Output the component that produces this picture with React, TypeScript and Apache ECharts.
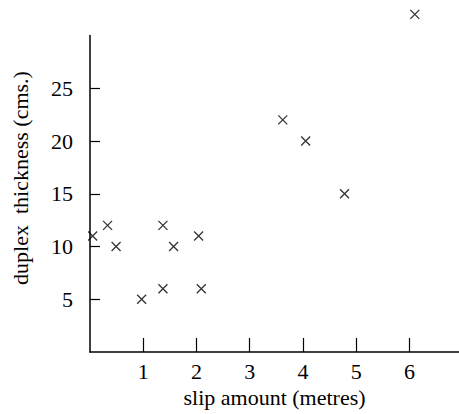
import React, { useEffect, useRef } from "react";
import * as echarts from "echarts";

const slipAmount = [0.05, 0.33, 0.49, 0.97, 1.37, 1.37, 1.57, 2.04, 2.09, 3.62, 4.05, 4.78, 6.1];
const duplexThickness = [11, 12, 10, 5, 12, 6, 10, 11, 6, 22, 20, 15, 32];
const xTickValues = [1, 2, 3, 4, 5, 6];
const yTickValues = [5, 10, 15, 20, 25];

const FONT = "'Liberation Serif', 'Times New Roman', serif";

export default function App() {
  const ref = useRef<HTMLDivElement>(null);
  useEffect(() => {
    if (!ref.current) return;
    const chart = echarts.init(ref.current, null, { renderer: "svg" });
    const data = slipAmount.map((x, i) => [x, duplexThickness[i]]);
    chart.setOption({
      animation: false,
      backgroundColor: "#fff",
      grid: { left: 90, right: 0, top: 35.5, bottom: 62 },
      xAxis: {
        type: "value",
        min: 0,
        max: 6.93,
        interval: 1,
        splitLine: { show: false },
        axisLine: { lineStyle: { color: "#000", width: 1.5 } },
        axisTick: { inside: true, length: 14, customValues: xTickValues, lineStyle: { color: "#000", width: 1.2 } },
        axisLabel: { customValues: xTickValues, color: "#000", fontFamily: FONT, fontSize: 22, margin: 8 },
        name: "slip amount (metres)",
        nameLocation: "middle",
        nameGap: 34,
        nameTextStyle: { color: "#000", fontFamily: FONT, fontSize: 22 },
      },
      yAxis: {
        type: "value",
        min: 0,
        max: 30,
        interval: 5,
        splitLine: { show: false },
        axisLine: { lineStyle: { color: "#000", width: 1.5 } },
        axisTick: { inside: true, length: 10, customValues: yTickValues, lineStyle: { color: "#000", width: 1.2 } },
        axisLabel: { customValues: yTickValues, color: "#000", fontFamily: FONT, fontSize: 22, margin: 17 },
      },
      graphic: [
        {
          type: "text",
          x: 20,
          y: 178,
          rotation: Math.PI / 2,
          style: {
            text: "duplex  thickness (cms.)",
            fill: "#000",
            font: `22px ${FONT}`,
            align: "center",
            verticalAlign: "middle",
          },
        },
      ],
      series: [
        {
          type: "scatter",
          data,
          clip: false,
          symbol: "path://M0,0L10,10M10,0L0,10",
          symbolSize: 9,
          itemStyle: { color: "transparent", borderColor: "#000", borderWidth: 1.3 },
        },
      ],
    });
    return () => chart.dispose();
  }, []);
  return <div ref={ref} style={{ position: "fixed", left: 0, top: 0, width: 459, height: 414 }} />;
}
